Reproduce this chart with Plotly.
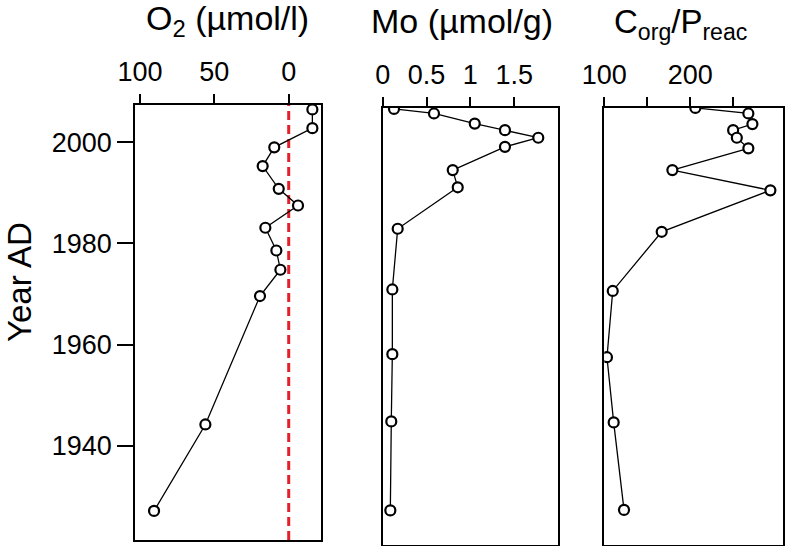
import plotly.graph_objects as go

# ---- data ----
o2_year = [2006.5, 2002.8, 1999.0, 1995.3, 1990.8, 1987.5, 1983.1, 1978.6, 1974.8, 1969.6, 1944.2, 1927.1]
o2_val = [-15.9, -15.9, 9.7, 17.5, 6.7, -6.25, 15.7, 8.3, 5.6, 19.3, 56.0, 90.5]

mo_year = [2006.6, 2005.7, 2003.7, 2002.4, 2000.9, 1999.1, 1994.5, 1991.1, 1982.9, 1970.9, 1958.1, 1944.8, 1927.2]
mo_val = [0.129, 0.585, 1.050, 1.395, 1.775, 1.395, 0.799, 0.856, 0.171, 0.110, 0.110, 0.098, 0.087]

cp_year = [2006.8, 2005.7, 2003.6, 2002.4, 2000.9, 1998.8, 1994.5, 1990.5, 1982.3, 1970.6, 1957.5, 1944.6, 1927.3]
cp_val = [205.8, 267.4, 272.1, 249.7, 254.0, 267.4, 179.1, 293.0, 166.7, 109.8, 103.1, 110.9, 122.9]

year_ticks = [1940, 1960, 1980, 2000]
o2_ticks = [100, 50, 0]
mo_ticks = [0, 0.5, 1, 1.5]
mo_ticklabels = ["0", "0.5", "1", "1.5"]
cp_ticks = [100, 150, 200, 250]
cp_ticklabels = ["100", "", "200", ""]

W, H = 786, 546
FONT = "Liberation Sans, Arial, sans-serif"

fig = go.Figure()

marker = dict(symbol="circle", size=10, color="white", line=dict(color="black", width=2.2))
line = dict(color="black", width=1.3)

fig.add_trace(go.Scatter(x=o2_val, y=o2_year, mode="lines+markers", marker=marker, line=line,
                         xaxis="x", yaxis="y", showlegend=False))
fig.add_trace(go.Scatter(x=mo_val, y=mo_year, mode="lines+markers", marker=marker, line=line,
                         xaxis="x2", yaxis="y2", showlegend=False))
fig.add_trace(go.Scatter(x=cp_val, y=cp_year, mode="lines+markers", marker=marker, line=line,
                         xaxis="x3", yaxis="y3", showlegend=False))

def px_x(p):
    return p / W

def px_y(p):
    return 1 - p / H

common_x = dict(side="top", showline=True, linecolor="black", linewidth=1.5, mirror=True,
                ticks="outside", ticklen=9, tickwidth=1.5, tickcolor="black",
                showgrid=False, zeroline=False, automargin=False, ticklabelstandoff=2,
                tickfont=dict(family=FONT, size=27, color="black"))
common_y = dict(showline=True, linecolor="black", linewidth=1.5, mirror=True,
                showgrid=False, zeroline=False, automargin=False)

fig.update_layout(
    width=W, height=H,
    margin=dict(l=0, r=0, t=0, b=0),
    paper_bgcolor="white", plot_bgcolor="white",
    xaxis=dict(common_x, domain=[px_x(135), px_x(320.7)], range=[103.3, -21.5],
               tickvals=o2_ticks, ticktext=[str(v) for v in o2_ticks], anchor="y"),
    xaxis2=dict(common_x, domain=[px_x(382.7), px_x(558)], range=[0, 2.0],
                tickvals=mo_ticks, ticktext=mo_ticklabels, anchor="y2"),
    xaxis3=dict(common_x, domain=[px_x(604.3), px_x(783.3)], range=[100, 308],
                tickvals=cp_ticks, ticktext=cp_ticklabels, anchor="y3"),
    yaxis=dict(common_y, domain=[px_y(540), px_y(105)], range=[1921.35, 2007.38],
               tickvals=year_ticks, ticks="outside", ticklen=16, tickwidth=1.5, tickcolor="black",
               ticklabelstandoff=0,
               tickfont=dict(family=FONT, size=27, color="black"), anchor="x"),
    yaxis2=dict(common_y, domain=[px_y(545), px_y(107.5)], range=[1920.36, 2006.88],
                showticklabels=False, ticks="", anchor="x2"),
    yaxis3=dict(common_y, domain=[px_y(545), px_y(107.5)], range=[1920.36, 2006.88],
                showticklabels=False, ticks="", anchor="x3"),
    shapes=[dict(type="line", xref="x", yref="y domain", x0=0, x1=0, y0=0, y1=1,
                 line=dict(color="#e3202a", width=3, dash="9px,5px"), layer="below")],
    annotations=[
        dict(text="O<sub>2</sub> (µmol/l)", x=px_x(227), y=px_y(21), xref="paper", yref="paper",
             xanchor="center", yanchor="middle", showarrow=False,
             font=dict(family=FONT, size=34, color="black")),
        dict(text="Mo (µmol/g)", x=px_x(461.5), y=px_y(21), xref="paper", yref="paper",
             xanchor="center", yanchor="middle", showarrow=False,
             font=dict(family=FONT, size=34, color="black")),
        dict(text="C<sub>org</sub>/P<sub>reac</sub>", x=px_x(680), y=px_y(24), xref="paper", yref="paper",
             xanchor="center", yanchor="middle", showarrow=False,
             font=dict(family=FONT, size=33, color="black")),
        dict(text="Year AD", x=px_x(19), y=px_y(282), xref="paper", yref="paper",
             xanchor="center", yanchor="middle", textangle=-90, showarrow=False,
             font=dict(family=FONT, size=33, color="black")),
    ],
)

fig.write_html("out.html", config={"displayModeBar": False},
               post_script="document.body.style.margin='0px';")
